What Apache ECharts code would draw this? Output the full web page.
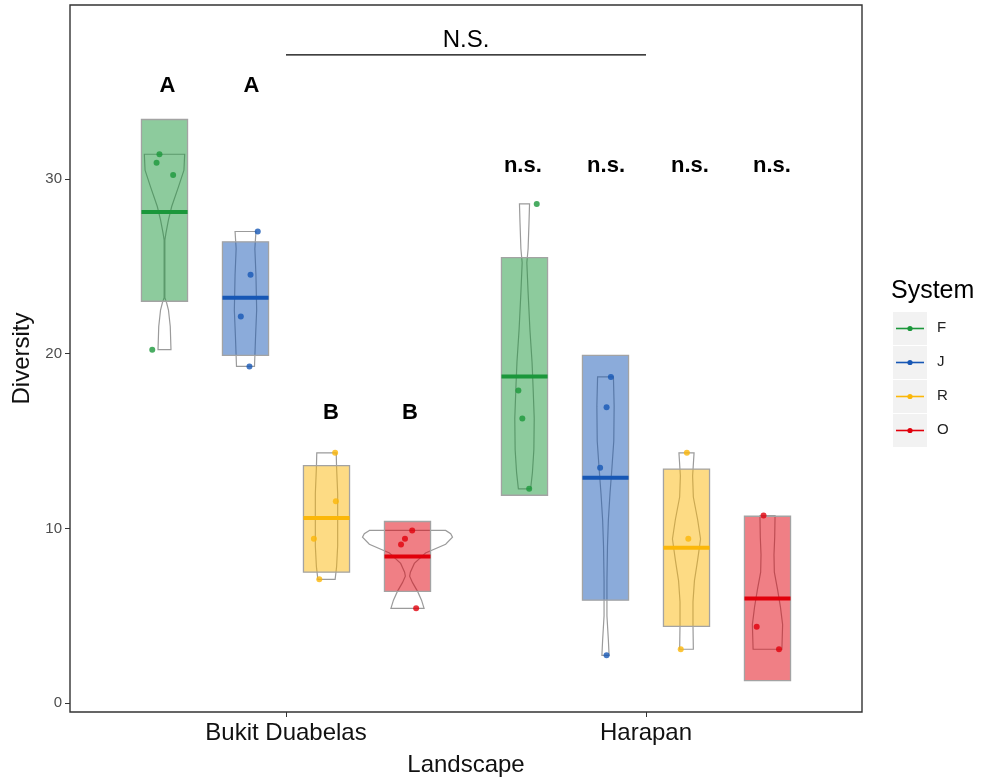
<!DOCTYPE html>
<html><head><meta charset="utf-8">
<script src="https://cdn.jsdelivr.net/npm/echarts@6/dist/echarts.min.js"></script>
<style>html,body{margin:0;padding:0;background:#fff}#c{width:988px;height:782px}</style>
</head><body><div id="c"></div>
<script>
// ---------- DATA ----------
const landscapes = ['Bukit Duabelas', 'Harapan'];
const systems = ['F', 'J', 'R', 'O'];
const yTicks = [0, 10, 20, 30];

// crossbars [low, mean, high] for F, J, R, O
const boxBukit   = [[23.0, 28.1, 33.4], [19.9, 23.2, 26.4], [7.5, 10.6, 13.6], [6.4, 8.4, 10.4]];
const boxHarapan = [[11.9, 18.7, 25.5], [5.9, 12.9, 19.9], [4.4, 8.9, 13.4], [1.3, 6.0, 10.7]];

// jittered points [x jitter, value]
const ptsBukitF = [[-0.014, 31.41], [-0.022, 30.93], [0.024, 30.23], [-0.034, 20.23]];
const ptsBukitJ = [[0.034, 26.99], [0.014, 24.51], [-0.013, 22.13], [0.011, 19.27]];
const ptsBukitR = [[0.024, 14.33], [0.026, 11.56], [-0.035, 9.41], [-0.020, 7.09]];
const ptsBukitO = [[0.013, 9.89], [-0.007, 9.41], [-0.018, 9.09], [0.024, 5.43]];
const ptsHarapanF = [[0.034, 28.57], [-0.017, 17.89], [-0.006, 16.29], [0.013, 12.27]];
const ptsHarapanJ = [[0.015, 18.67], [0.003, 16.93], [-0.015, 13.47], [0.003, 2.74]];
const ptsHarapanR = [[0.001, 14.33], [0.005, 9.41], [-0.016, 3.09]];
const ptsHarapanO = [[-0.011, 10.74], [-0.030, 4.38], [0.032, 3.09]];

// violin outlines [value, half width]
const vioBukitF = [[31.41,0.056],[30.5,0.054],[29.56,0.039],[28.42,0.020],[27.66,0.011],[26.9,0.004],[26.5,0.001],[23.2,0.001],[22.9,0.006],[22.5,0.011],[21.56,0.016],[20.23,0.018]];
const vioBukitJ = [[26.99,0.029],[26.0,0.026],[24.5,0.029],[22.5,0.031],[21.0,0.028],[19.27,0.025]];
const vioBukitR = [[14.33,0.027],[13.5,0.028],[12.0,0.031],[10.5,0.031],[9.0,0.031],[7.8,0.028],[7.09,0.024]];
const vioBukitO = [[9.89,0.106],[9.7,0.120],[9.5,0.125],[9.1,0.106],[8.6,0.050],[8.0,0.019],[7.5,0.008],[7.27,0.006],[6.9,0.014],[6.4,0.028],[5.9,0.039],[5.43,0.046]];
const vioHarapanF = [[28.57,0.014],[27.5,0.0125],[26,0.010],[25.2,0.0065],[23.5,0.010],[21.4,0.015],[19.5,0.021],[18,0.024],[16.3,0.027],[14.5,0.026],[13.2,0.022],[12.27,0.017]];
const vioHarapanJ = [[18.67,0.022],[17,0.024],[15,0.023],[13.5,0.018],[12,0.0125],[10.5,0.008],[9,0.0055],[7,0.004],[5,0.004],[3.6,0.008],[2.74,0.010]];
const vioHarapanR = [[14.33,0.021],[13.0,0.017],[11.8,0.019],[10.5,0.031],[9.4,0.039],[8.2,0.031],[7.0,0.022],[5.8,0.018],[4.5,0.018],[3.09,0.019]];
const vioHarapanO = [[10.74,0.021],[9.5,0.020],[8.5,0.018],[7.5,0.019],[6.5,0.028],[5.5,0.036],[4.5,0.042],[3.09,0.040]];

// significance annotations
const annotText = ['A', 'A', 'B', 'B', 'n.s.', 'n.s.', 'n.s.', 'n.s.'];
const annotX = [0.671, 0.904, 1.125, 1.344, 1.658, 1.889, 2.122, 2.350];
const annotY = [35.3, 35.3, 16.6, 16.6, 30.75, 30.75, 30.75, 30.75];
const nsText = 'N.S.';
const nsX = [1, 2];
const nsY = 37.1;
const nsTextY = 37.95;

// ---------- STYLE ----------
const solid = ['#1B973B', '#1757B5', '#FBB709', '#E1000B'];
const fillA = ['rgba(27,151,59,0.5)', 'rgba(23,87,181,0.5)', 'rgba(251,183,9,0.5)', 'rgba(225,0,11,0.5)'];
const dodge = 0.225, boxHalf = 0.064;
const FONT = '"Liberation Sans", Arial, sans-serif';

const boxes = [boxBukit, boxHarapan];
const pts = [[ptsBukitF, ptsBukitJ, ptsBukitR, ptsBukitO], [ptsHarapanF, ptsHarapanJ, ptsHarapanR, ptsHarapanO]];
const vios = [[vioBukitF, vioBukitJ, vioBukitR, vioBukitO], [vioHarapanF, vioHarapanJ, vioHarapanR, vioHarapanO]];
const centerOf = (l, s) => (l + 1) + (s - 1.5) * dodge;

const violinItems = [], boxItems = [];
for (let l = 0; l < 2; l++) for (let s = 0; s < 4; s++) {
  violinItems.push({ x: centerOf(l, s), prof: vios[l][s] });
  boxItems.push({ x: centerOf(l, s), b: boxes[l][s], s });
}

const series = [];
series.push({
  type: 'custom', silent: true, z: 1,
  data: violinItems.map(v => [v.x, v.prof[0][0]]),
  renderItem: (params, api) => {
    const v = violinItems[params.dataIndex];
    const left = v.prof.map(p => api.coord([v.x - p[1], p[0]]));
    const right = v.prof.slice().reverse().map(p => api.coord([v.x + p[1], p[0]]));
    return { type: 'polygon', shape: { points: left.concat(right) },
      style: { fill: 'none', stroke: '#9b9b9b', lineWidth: 1.2 } };
  }
});
series.push({
  type: 'custom', silent: true, z: 2,
  data: boxItems.map(v => [v.x, v.b[1]]),
  renderItem: (params, api) => {
    const it = boxItems[params.dataIndex];
    const p1 = api.coord([it.x - boxHalf, it.b[2]]);
    const p2 = api.coord([it.x + boxHalf, it.b[0]]);
    const m1 = api.coord([it.x - boxHalf, it.b[1]]);
    const m2 = api.coord([it.x + boxHalf, it.b[1]]);
    return { type: 'group', children: [
      { type: 'rect', shape: { x: p1[0], y: p1[1], width: p2[0] - p1[0], height: p2[1] - p1[1] },
        style: { fill: fillA[it.s], stroke: '#a3a3a3', lineWidth: 1.3 } },
      { type: 'line', shape: { x1: m1[0], y1: m1[1], x2: m2[0], y2: m2[1] },
        style: { stroke: solid[it.s], lineWidth: 4 } }
    ]};
  }
});
for (let s = 0; s < 4; s++) {
  const data = [];
  for (let l = 0; l < 2; l++) pts[l][s].forEach(p => data.push([centerOf(l, s) + p[0], p[1]]));
  series.push({ type: 'scatter', name: systems[s], z: 5, symbol: 'circle', symbolSize: 6,
    itemStyle: { color: solid[s] }, data, silent: true });
}
series.push({
  type: 'custom', silent: true, z: 6,
  data: annotText.map((t, i) => [annotX[i], annotY[i]]),
  renderItem: (params, api) => {
    const i = params.dataIndex;
    const p = api.coord([annotX[i], annotY[i]]);
    return { type: 'text', x: p[0], y: p[1], style: { text: annotText[i], fill: '#000',
      font: 'bold 22px ' + FONT, align: 'center', verticalAlign: 'middle' } };
  }
});
series.push({
  type: 'line', silent: true, z: 6, symbol: 'none',
  data: nsX.map(x => [x, nsY]), lineStyle: { color: '#000', width: 1.3 },
  label: { show: false }
});
series.push({
  type: 'custom', silent: true, z: 6, data: [[1.5, nsTextY]],
  renderItem: (params, api) => {
    const p = api.coord([1.5, nsTextY]);
    return { type: 'text', x: p[0], y: p[1], style: { text: nsText, fill: '#000',
      font: '24px ' + FONT, align: 'center', verticalAlign: 'middle' } };
  }
});

// legend drawn as graphic
const legendG = [{ type: 'text', left: 891, top: 279, style: { text: 'System', font: '25px ' + FONT, fill: '#000' } }];
for (let s = 0; s < 4; s++) {
  const y0 = 312 + s * 34;
  legendG.push({ type: 'rect', shape: { x: 893, y: y0, width: 34, height: 33 }, style: { fill: '#F2F2F2' } });
  legendG.push({ type: 'line', shape: { x1: 896, y1: y0 + 16.5, x2: 924, y2: y0 + 16.5 }, style: { stroke: solid[s], lineWidth: 1.6 } });
  legendG.push({ type: 'circle', shape: { cx: 910, cy: y0 + 16.5, r: 2.6 }, style: { fill: solid[s] } });
  legendG.push({ type: 'text', left: 937, top: y0 + 8, style: { text: systems[s], font: '15px ' + FONT, fill: '#222' } });
}

const chart = echarts.init(document.getElementById('c'), null, { renderer: 'canvas' });
chart.setOption({
  backgroundColor: '#fff',
  animation: false,
  grid: { left: 70, right: 126, top: 5, bottom: 69, show: true, borderColor: '#333', borderWidth: 1.4, backgroundColor: 'transparent' },
  xAxis: {
    type: 'value', min: 0.4, max: 2.6,
    name: 'Landscape', nameLocation: 'middle', nameGap: 41,
    nameTextStyle: { fontFamily: FONT, fontSize: 24, color: '#111' },
    axisLine: { show: false, onZero: false }, splitLine: { show: false },
    axisTick: { show: true, customValues: [1, 2], length: 5, lineStyle: { color: '#333' } },
    axisLabel: { customValues: [1, 2], formatter: v => landscapes[Math.round(v) - 1] || '',
      fontFamily: FONT, fontSize: 24, color: '#111', margin: 9 }
  },
  yAxis: {
    type: 'value', min: -0.5, max: 39.95,
    name: 'Diversity', nameLocation: 'middle', nameGap: 27, nameRotate: 90,
    nameTextStyle: { fontFamily: FONT, fontSize: 24, color: '#111' },
    axisLine: { show: false, onZero: false }, splitLine: { show: false },
    axisTick: { show: true, customValues: yTicks, length: 5, lineStyle: { color: '#333' } },
    axisLabel: { customValues: yTicks, fontFamily: FONT, fontSize: 15, color: '#4D4D4D', margin: 8 }
  },
  graphic: legendG,
  series
});
</script></body></html>
